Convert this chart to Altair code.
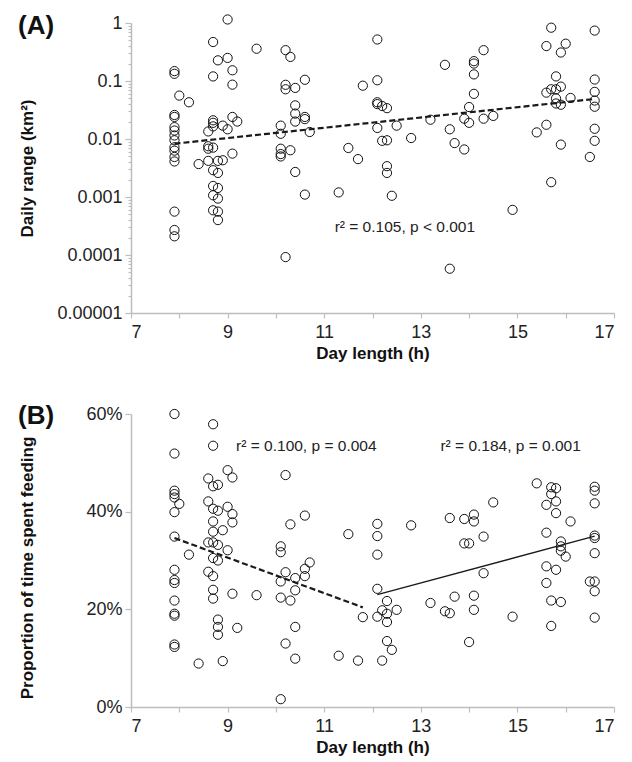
import altair as alt
import pandas as pd

FONT = "Liberation Sans"

# ---------------- Panel A: daily range (km²) vs day length (h) ----------------
a_days = [7.9, 8.0, 8.2, 8.4, 8.6, 8.7, 8.8, 8.9, 9.0, 9.1, 9.2, 9.6,
          10.1, 10.2, 10.3, 10.4, 10.6, 10.7, 11.3, 11.5, 11.7, 11.8,
          12.1, 12.2, 12.3, 12.4, 12.5, 12.8, 13.2, 13.5, 13.6, 13.7,
          13.9, 14.0, 14.1, 14.3, 14.5, 14.9, 15.4, 15.6, 15.7, 15.8,
          15.9, 16.0, 16.1, 16.5, 16.6]
a_ranges = [
    [0.148, 0.133, 0.026, 0.024, 0.016, 0.014, 0.0115, 0.0095, 0.0072, 0.0063, 0.0049, 0.0041, 0.00056, 0.00027, 0.00021],
    [0.056],
    [0.043],
    [0.0037],
    [0.0135, 0.0075, 0.0068, 0.0042],
    [0.47, 0.12, 0.021, 0.019, 0.0165, 0.0071, 0.0029, 0.00155, 0.00107, 0.00059],
    [0.227, 0.0042, 0.0026, 0.00143, 0.00094, 0.00056, 0.0004],
    [0.017, 0.0043],
    [1.15, 0.25, 0.0147],
    [0.153, 0.0865, 0.024, 0.0056],
    [0.020],
    [0.36],
    [0.017, 0.0123, 0.0068, 0.0055, 0.005],
    [0.34, 0.086, 0.072, 0.000092],
    [0.26, 0.0064],
    [0.076, 0.038, 0.0274, 0.020, 0.0027],
    [0.105, 0.024, 0.022, 0.0011],
    [0.0132],
    [0.0012],
    [0.007],
    [0.0045],
    [0.083],
    [0.52, 0.103, 0.043, 0.040, 0.0155],
    [0.037, 0.0093],
    [0.034, 0.0095, 0.0034, 0.0026],
    [0.00105],
    [0.017],
    [0.0104],
    [0.0215],
    [0.19],
    [0.0147, 0.000058],
    [0.0085],
    [0.0224, 0.0066],
    [0.0356, 0.019],
    [0.22, 0.20, 0.13, 0.06],
    [0.34, 0.0224],
    [0.025],
    [0.0006],
    [0.013],
    [0.40, 0.063, 0.0176],
    [0.83, 0.072, 0.0018],
    [0.12, 0.072, 0.05, 0.041],
    [0.31, 0.08, 0.039, 0.008],
    [0.44],
    [0.051],
    [0.0049],
    [0.74, 0.106, 0.065, 0.046, 0.036, 0.015, 0.0093],
]
a_fit_day = [7.9, 16.6]
a_fit_val = [0.0083, 0.049]
a_note = "r² = 0.105, p < 0.001"
a_note_day, a_note_val = 12.67, 0.0003
a_major = [0.00001, 0.0001, 0.001, 0.01, 0.1, 1]

# ---------------- Panel B: proportion of time spent feeding ----------------
b_days = [7.9, 8.0, 8.2, 8.4, 8.6, 8.7, 8.8, 8.9, 9.0, 9.1, 9.2, 9.6,
          10.1, 10.2, 10.3, 10.4, 10.6, 10.7, 11.3, 11.5, 11.7, 11.8,
          12.1, 12.2, 12.3, 12.4, 12.5, 12.8, 13.2, 13.5, 13.6, 13.7,
          13.9, 14.0, 14.1, 14.3, 14.5, 14.9, 15.4, 15.6, 15.7, 15.8,
          15.9, 16.0, 16.1, 16.5, 16.6]
b_feed = [
    [60.0, 51.9, 44.3, 43.6, 42.9, 39.9, 34.9, 28.1, 26.0, 25.4, 21.8, 19.1, 18.7, 12.8, 12.3],
    [41.6],
    [31.2],
    [8.9],
    [46.8, 42.1, 33.7, 27.7],
    [57.9, 53.5, 45.2, 40.6, 38.0, 35.9, 33.7, 30.5, 26.8, 24.0, 22.2],
    [45.5, 40.2, 33.2, 30.0, 17.9, 16.4, 14.8],
    [36.2, 9.4],
    [48.5, 41.0, 32.1],
    [47.0, 39.5, 37.8, 23.2],
    [16.2],
    [22.9],
    [32.9, 31.7, 25.7, 22.4, 1.6],
    [47.5, 27.6, 13.0],
    [37.4, 21.8],
    [26.4, 23.9, 16.4, 9.9],
    [39.2, 28.3, 26.8],
    [29.6],
    [10.5],
    [35.4],
    [9.5],
    [18.4],
    [37.5, 35.0, 31.2, 24.2, 18.5],
    [19.8, 9.5],
    [21.7, 19.1, 17.4, 13.5],
    [11.7],
    [19.9],
    [37.2],
    [21.3],
    [19.6],
    [38.7, 19.2],
    [22.6],
    [38.5, 33.5],
    [33.5, 13.3],
    [39.4, 38.0, 22.8, 19.9],
    [34.9, 27.4],
    [41.9],
    [18.5],
    [45.8],
    [41.4, 35.7, 28.8, 25.4],
    [45.0, 43.6, 21.8, 16.6],
    [44.8, 42.1, 39.7, 28.1],
    [33.9, 32.9, 32.0, 21.5],
    [30.8],
    [38.0],
    [25.7],
    [45.1, 44.3, 41.7, 35.1, 34.6, 31.5, 25.7, 23.7, 18.3],
]
b_fit1_day = [7.9, 11.8]
b_fit1_val = [34.6, 20.4]
b_fit2_day = [12.1, 16.6]
b_fit2_val = [23.0, 35.0]
b_notes = ["r² = 0.100, p = 0.004", "r² = 0.184, p = 0.001"]
b_note_days = [10.63, 14.86]
b_note_vals = [53.5, 53.5]
b_ticks = [0, 20, 40, 60]

x_ticks = list(range(7, 18))


def flat(days, groups):
    rows = []
    for d, vals in zip(days, groups):
        for v in vals:
            rows.append({"day": d, "val": v})
    return pd.DataFrame(rows)


dfA = flat(a_days, a_ranges)
dfB = flat(b_days, b_feed)

W = 483
HA = 290
HB = 293


def x_enc():
    return alt.X(
        "day:Q",
        scale=alt.Scale(domain=[7, 17], nice=False, zero=False),
        axis=alt.Axis(
            values=x_ticks,
            labelExpr="datum.value % 2 == 1 ? datum.label : ''",
            labelOverlap=False,
            title="Day length (h)",
            tickSize=5,
            labelPadding=5,
            titlePadding=4,
        ),
    )


# minor log ticks
a_minor = []
for m in a_major[:-1]:
    for k in range(1, 10):
        a_minor.append(m * k)
a_minor.append(1)
major_list = "[" + ",".join(repr(v) for v in a_major) + "]"
is_major = f"indexof({major_list}, datum.value) >= 0"

yA = alt.Y(
    "val:Q",
    scale=alt.Scale(type="log", domain=[0.00001, 1], nice=False),
    axis=alt.Axis(
        values=a_minor,
        labelExpr=f"{is_major} ? format(datum.value, '~f') : ''",
        labelOverlap=False,
        tickSize={"condition": {"test": is_major, "value": 6}, "value": 3},
        title="Daily range (km²)",
        titleX=-95,
        titleY=HA / 2,
        labelPadding=3,
    ),
)

pt_style = dict(shape="circle", filled=False, size=85, stroke="#111", strokeWidth=1, opacity=1)

ptsA = alt.Chart(dfA).mark_point(**pt_style).encode(x=x_enc(), y=yA)
fitA = alt.Chart(pd.DataFrame({"day": a_fit_day, "val": a_fit_val})).mark_line(
    color="#1a1a1a", strokeWidth=2.2, strokeDash=[6, 3]
).encode(x="day:Q", y="val:Q")
noteA = alt.Chart(pd.DataFrame({"day": [a_note_day], "val": [a_note_val], "t": [a_note]})).mark_text(
    font=FONT, fontSize=15.5, color="#222", align="center", baseline="middle"
).encode(x="day:Q", y="val:Q", text="t:N")
tagA = alt.Chart(pd.DataFrame({"t": ["(A)"]})).mark_text(
    font=FONT, fontSize=26, fontWeight="bold", color="#111", align="left", baseline="alphabetic"
).encode(x=alt.value(-113), y=alt.value(11), text="t:N")

chartA = alt.layer(ptsA, fitA, noteA, tagA).properties(width=W, height=HA)

yB = alt.Y(
    "val:Q",
    scale=alt.Scale(domain=[0, 60], nice=False),
    axis=alt.Axis(
        values=b_ticks,
        labelExpr="datum.value + '%'",
        tickSize=6,
        title="Proportion of time spent feeding",
        titleX=-95,
        titleY=HB / 2 + 7,
        labelPadding=3,
    ),
)
ptsB = alt.Chart(dfB).mark_point(**pt_style).encode(x=x_enc(), y=yB)
fitB1 = alt.Chart(pd.DataFrame({"day": b_fit1_day, "val": b_fit1_val})).mark_line(
    color="#1a1a1a", strokeWidth=2.2, strokeDash=[6, 3]
).encode(x="day:Q", y="val:Q")
fitB2 = alt.Chart(pd.DataFrame({"day": b_fit2_day, "val": b_fit2_val})).mark_line(
    color="#1a1a1a", strokeWidth=1.4
).encode(x="day:Q", y="val:Q")
noteB = alt.Chart(pd.DataFrame({"day": b_note_days, "val": b_note_vals, "t": b_notes})).mark_text(
    font=FONT, fontSize=15.5, color="#222", align="center", baseline="middle"
).encode(x="day:Q", y="val:Q", text="t:N")
tagB = alt.Chart(pd.DataFrame({"t": ["(B)"]})).mark_text(
    font=FONT, fontSize=26, fontWeight="bold", color="#111", align="left", baseline="alphabetic"
).encode(x=alt.value(-113), y=alt.value(10), text="t:N")

chartB = alt.layer(ptsB, fitB1, fitB2, noteB, tagB).properties(width=W, height=HB)

chart = (
    alt.vconcat(chartA, chartB, spacing=42)
    .properties(padding={"left": 9, "top": 4, "right": 5, "bottom": 5}, background="white")
    .configure_view(stroke=None)
    .configure_axis(
        grid=False,
        labelFont=FONT,
        labelFontSize=18,
        labelColor="#222",
        titleFont=FONT,
        titleFontSize=17,
        titleFontWeight="bold",
        titleColor="#111",
        domainColor="#bdbdbd",
        domainWidth=1.5,
        tickColor="#bdbdbd",
        tickWidth=1.2,
    )
)

chart.save("out.html", embed_options={"renderer": "svg", "actions": False})
